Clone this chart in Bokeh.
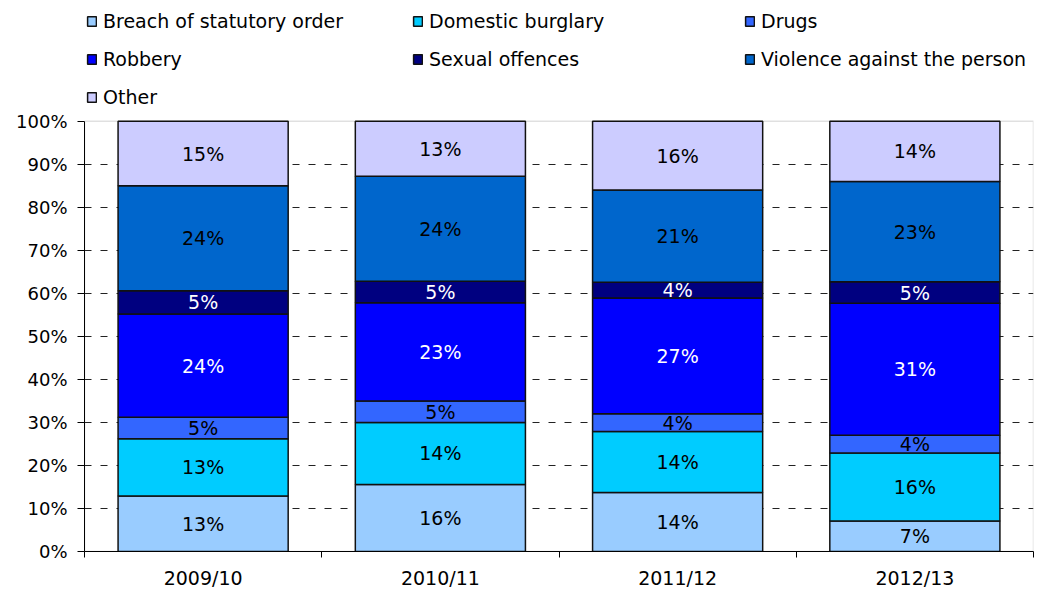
from bokeh.plotting import figure
from bokeh.models import (ColumnDataSource, Legend, LegendItem, LinearAxis, BoxAnnotation,
                          Range1d, FixedTicker, PrintfTickFormatter)
from bokeh.core.properties import value
from bokeh.embed import file_html
from bokeh.resources import INLINE

years = ["2009/10", "2010/11", "2011/12", "2012/13"]
series = ["Breach of statutory order", "Domestic burglary", "Drugs", "Robbery",
          "Sexual offences", "Violence against the person", "Other"]
breach = [12.9, 15.6, 13.7, 7.1]
burglary = [13.3, 14.4, 14.2, 15.8]
drugs = [5.0, 5.0, 4.1, 4.1]
robbery = [24.0, 22.8, 26.9, 30.7]
sexual = [5.4, 5.0, 3.7, 5.0]
violence = [24.4, 24.4, 21.4, 23.3]
other = [15.0, 12.8, 16.0, 14.0]
colors = ["#99CCFF", "#00CCFF", "#3366FF", "#0000FF", "#000080", "#0066CC", "#CCCCFF"]
label_colors = ["black", "black", "black", "white", "white", "black", "black"]
y_ticks = [0, 10, 20, 30, 40, 50, 60, 70, 80, 90, 100]

FONT = "DejaVu Sans"
keys = ["s%d" % i for i in range(len(series))]
all_vals = [breach, burglary, drugs, robbery, sexual, violence, other]
centers = [i + 0.5 for i in range(len(years))]
data = {"x": centers, "year": years}
for k, v in zip(keys, all_vals):
    data[k] = v
src = ColumnDataSource(data)

# frame: top at page 0 (room for legend), 100% at 121 px, 0% at 552 px
FRAME_H = 552
Y_TOP = 100.0 * FRAME_H / (FRAME_H - 121)

p = figure(x_range=Range1d(0, len(years)), y_range=Range1d(0, Y_TOP),
           width=1037, height=591, output_backend="svg", toolbar_location=None, tools="",
           x_axis_location=None, min_border_left=84, min_border_top=0,
           min_border_right=4, min_border_bottom=39)
p.background_fill_color = "white"
p.border_fill_color = "white"
p.outline_line_color = None

# plot-area border (grey) from 0% to 100%
p.add_layout(BoxAnnotation(left=0, right=len(years), bottom=0, top=100,
                           fill_alpha=0, line_color="#999999", line_width=1.5,
                           level="underlay"))

rs = p.vbar_stack(keys, x="x", width=0.717, source=src, fill_color=colors,
                  line_color="#111111", line_width=1.5)

# data labels
lx, ly, lt, lc = [], [], [], []
for j, cx in enumerate(centers):
    cum = 0.0
    for i, vals in enumerate(all_vals):
        v = vals[j]
        lx.append(cx)
        ly.append(cum + v / 2)
        lt.append("%d%%" % round(v))
        lc.append(label_colors[i])
        cum += v
lsrc = ColumnDataSource(dict(x=lx, y=ly, text=lt, color=lc))
p.text(x="x", y="y", text="text", source=lsrc, text_color="color",
       text_font=value(FONT), text_font_size=value("19px"),
       text_align="center", text_baseline="middle")

# grid
p.xgrid.visible = False
p.ygrid.ticker = FixedTicker(ticks=y_ticks[1:-1])
p.ygrid.grid_line_color = "#222222"
p.ygrid.grid_line_dash = "7 9"
p.ygrid.grid_line_width = 1

# y axis
p.yaxis.ticker = FixedTicker(ticks=y_ticks)
p.yaxis.bounds = (0, 100)
p.yaxis.formatter = PrintfTickFormatter(format="%d%%")
p.yaxis.major_tick_out = 7
p.yaxis.major_tick_in = 0
p.yaxis.minor_tick_line_color = None
p.yaxis.axis_line_color = "black"
p.yaxis.major_tick_line_color = "black"
p.yaxis.major_label_text_font = FONT
p.yaxis.major_label_text_font_size = "18px"
p.yaxis.major_label_text_color = "black"
p.yaxis.major_label_standoff = 10

# x axis: labels at bar centres, tick marks between categories (minor ticks)
x_axis = LinearAxis(ticker=FixedTicker(ticks=centers, minor_ticks=list(range(len(years) + 1))),
                    major_label_overrides={c: y for c, y in zip(centers, years)},
                    major_tick_out=0, major_tick_in=0, major_tick_line_color=None,
                    minor_tick_out=6, minor_tick_in=0, minor_tick_line_color="black",
                    axis_line_color="black",
                    major_label_text_font=FONT, major_label_text_font_size="19px",
                    major_label_text_color="black", major_label_standoff=9)
p.add_layout(x_axis, "below")

# legend in three columns
cols = [[0, 3, 6], [1, 4], [2, 5]]
xs = [2, 328, 660]
for col, x0 in zip(cols, xs):
    items = [LegendItem(label=series[i], renderers=[rs[i]]) for i in col]
    n = len(col)
    h = n * 22 + (n - 1) * 16
    leg = Legend(items=items, location=(x0, 541 - h), orientation="vertical",
                 glyph_width=11, glyph_height=12, label_height=22, spacing=16,
                 padding=0, margin=0, label_standoff=6,
                 label_text_font=FONT, label_text_font_size="19px",
                 label_text_color="black", border_line_color=None,
                 background_fill_alpha=0)
    p.add_layout(leg, "center")

open("out.html", "w").write(file_html(p, INLINE))
